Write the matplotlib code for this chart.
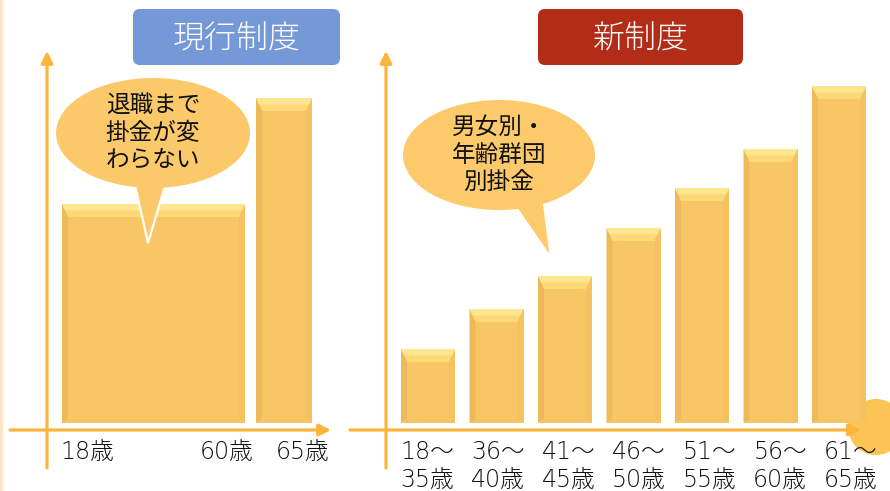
import matplotlib
matplotlib.use("Agg")
import matplotlib.pyplot as plt
from matplotlib.patches import Rectangle, Polygon, Ellipse, FancyBboxPatch, Circle

plt.rcParams['font.family'] = ['Noto Sans CJK JP', 'DejaVu Sans']

# data (bar heights in relative units)
cur_labels = ["18歳", "60歳", "65歳"]
cur_values = [219, 325]
new_labels = ["18～\n35歳", "36～\n40歳", "41～\n45歳", "46～\n50歳",
              "51～\n55歳", "56～\n60歳", "61～\n65歳"]
new_values = [74, 114, 147, 195, 235, 274, 337]

W, H = 890, 491
BASE = 68          # bar baseline (px from bottom)
AXC = "#fbb53c"    # axis colour
BAR = "#f9c665"
LABFONT = ['DejaVu Sans', 'Noto Sans CJK JP']

fig = plt.figure(figsize=(W / 100, H / 100), dpi=100)
ax = fig.add_axes([0, 0, 1, 1])
ax.set_xlim(0, W)
ax.set_ylim(0, H)
ax.axis("off")

# light strip at the left edge
ax.add_patch(Rectangle((0, 0), 3, H, color="#fde4c9", lw=0, zorder=0))
# partial circle bottom right
ax.add_patch(Circle((876, 64), 28, color="#fcc455", lw=0, zorder=1))


def arrow(x0, y0, x1, y1):
    ax.annotate("", xy=(x1, y1), xytext=(x0, y0),
                arrowprops=dict(arrowstyle="-|>,head_length=0.7,head_width=0.35",
                                color=AXC, lw=2.3, shrinkA=0, shrinkB=0),
                zorder=3)


def bevel_bar(x0, w, h):
    bars = ax.bar(x0, h, width=w, bottom=BASE, align="edge", color=BAR, lw=0, zorder=2)
    r = bars[0]
    x0, y0, w, h = r.get_x(), r.get_y(), r.get_width(), r.get_height()
    top = y0 + h
    bs, bt = min(6, w * 0.11), 13
    ax.add_patch(Polygon([(x0, top), (x0 + w, top), (x0 + w - bs, top - bt), (x0 + bs, top - bt)],
                         closed=True, color="#fcd877", lw=0, zorder=2.1))
    ax.add_patch(Polygon([(x0, top), (x0 + w, top), (x0 + w - bs * 0.5, top - bt * 0.5),
                          (x0 + bs * 0.5, top - bt * 0.5)],
                         closed=True, color="#fde68f", lw=0, zorder=2.2))
    ax.add_patch(Polygon([(x0, y0), (x0, top), (x0 + bs, top - bt), (x0 + bs, y0 + 4)],
                         closed=True, color="#eeb958", lw=0, zorder=2.1))
    ax.add_patch(Polygon([(x0 + w, y0), (x0 + w, top), (x0 + w - bs, top - bt), (x0 + w - bs, y0 + 4)],
                         closed=True, color="#f6c260", lw=0, zorder=2.1))
    ax.add_patch(Polygon([(x0, y0), (x0 + w, y0), (x0 + w - bs, y0 + 4), (x0 + bs, y0 + 4)],
                         closed=True, color="#f6c464", lw=0, zorder=2.1))


def bubble(cx, cy, bw, bh, tail, lines, col):
    ax.add_patch(Polygon(tail, closed=True, facecolor=col, edgecolor="white", lw=1.6, zorder=4))
    ax.add_patch(Ellipse((cx, cy), bw, bh, facecolor=col, edgecolor="none", zorder=4.1))
    ax.text(cx, cy, lines, ha="center", va="center", fontsize=17, color="#111111",
            linespacing=1.25, zorder=5)


def title_box(x0, x1, text, col):
    ax.add_patch(FancyBboxPatch((x0, 426), x1 - x0, 56, boxstyle="round,pad=0,rounding_size=7",
                                facecolor=col, edgecolor="none", zorder=4))
    ax.text((x0 + x1) / 2, 452, text, ha="center", va="center", fontsize=23,
            color="white", fontweight="light", zorder=5)


# ---------------- left panel: current system ----------------
arrow(47, 23, 47, 440)
arrow(10, 61, 331, 61)
for x0, w, v in zip([62, 256], [183, 56], cur_values):
    bevel_bar(x0, w, v)
for x, lab in zip([60, 200, 276], cur_labels):
    ax.text(x, 39, lab, ha="left", va="center", fontsize=17, color="#111111",
            family=LABFONT, fontweight="light", zorder=5)
title_box(133, 340, "現行制度", "#7598d6")
bubble(153, 358, 194, 110, [(133, 315), (168, 315), (148, 248)],
       "退職まで\n掛金が変\nわらない", "#fcc96a")

# ---------------- right panel: new system ----------------
arrow(386, 23, 386, 440)
arrow(350, 61, 861, 61)
for i, v in enumerate(new_values):
    bevel_bar(401 + i * 68.5, 54, v)
for i, lab in enumerate(new_labels):
    ax.text(427 + i * 70.6, 25, lab, ha="center", va="center", fontsize=17,
            color="#111111", linespacing=1.2, family=LABFONT, fontweight="light", zorder=5)
title_box(538, 743, "新制度", "#b22c18")
bubble(499, 336, 192, 110, [(508, 295), (543, 295), (551, 233)],
       "男女別・\n年齢群団\n別掛金", "#fdca6b")

fig.savefig("out.png", dpi=100)
